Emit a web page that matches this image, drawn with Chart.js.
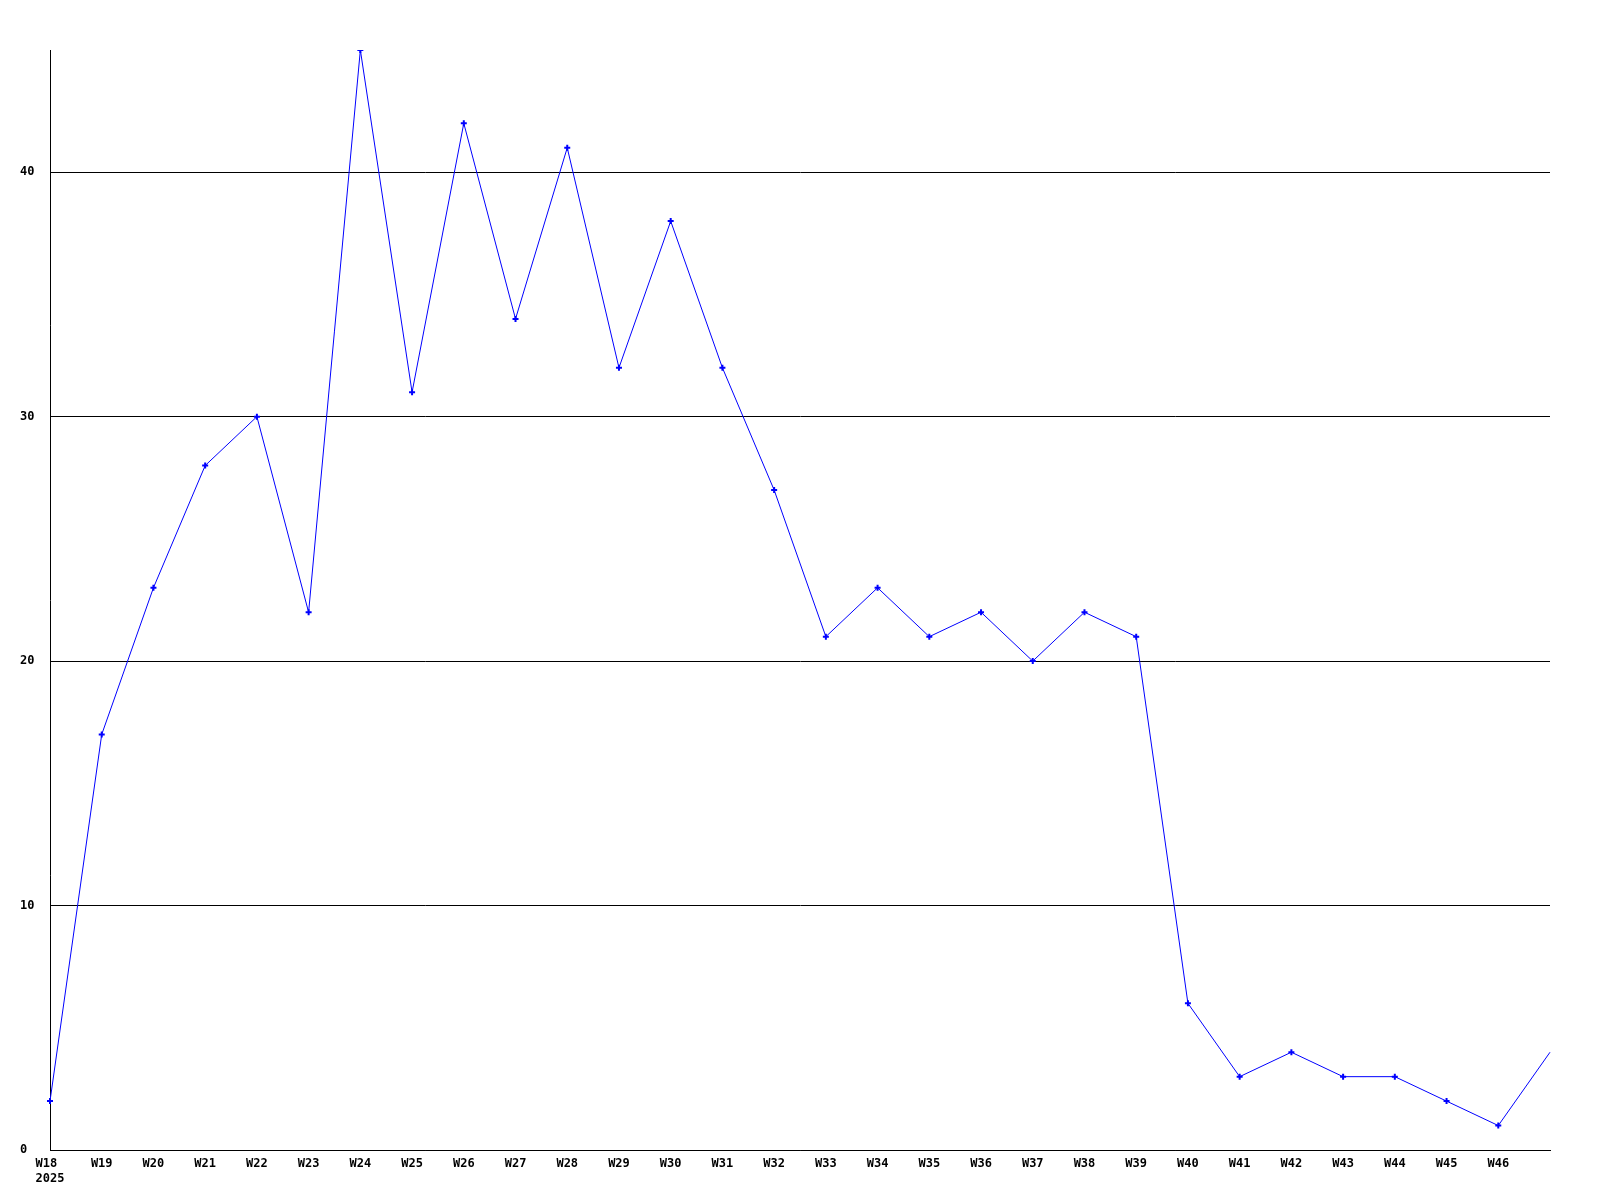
<!DOCTYPE html>
<html lang="en">
<head>
    <meta charset="UTF-8">
    <title>Weekly counts</title>
    <style>
        html, body { margin: 0; padding: 0; background: #fff; }
        #wrap { width: 1600px; height: 1200px; }
    </style>
    <script src="https://cdn.jsdelivr.net/npm/chart.js"></script>
</head>
<body>
    <div id="wrap"><canvas id="weekChart" width="1600" height="1200"></canvas></div>
    <script>
        // Weeks W18 .. W47 (W47 label not shown in the original)
        const weeks = ['W18', 'W19', 'W20', 'W21', 'W22', 'W23', 'W24', 'W25', 'W26', 'W27',
                       'W28', 'W29', 'W30', 'W31', 'W32', 'W33', 'W34', 'W35', 'W36', 'W37',
                       'W38', 'W39', 'W40', 'W41', 'W42', 'W43', 'W44', 'W45', 'W46', 'W47'];
        const counts = [2, 17, 23, 28, 30, 22, 45, 31, 42, 34,
                        41, 32, 38, 32, 27, 21, 23, 21, 22, 20,
                        22, 21, 6, 3, 4, 3, 3, 2, 1, 4];
        const yearLabel = '2025';
        const yTicks = [0, 10, 20, 30, 40];

        const lastIdx = weeks.length - 1;
        const labels = weeks.map((w, i) => i === 0 ? [w + ' ', yearLabel] : (i === lastIdx ? '' : w));
        const tickFont = { family: '"DejaVu Sans Mono", monospace', size: 12, weight: 'bold', lineHeight: 1.25 };

        new Chart(document.getElementById('weekChart'), {
            type: 'line',
            data: {
                labels: labels,
                datasets: [{
                    data: counts,
                    borderColor: '#0000ff',
                    borderWidth: 1,
                    pointStyle: 'cross',
                    // the last (partial) week has no marker
                    pointRadius: ctx => ctx.dataIndex === lastIdx ? 0 : 3,
                    pointBorderWidth: 2,
                    pointBorderColor: '#0000ff',
                    tension: 0,
                    fill: false
                }]
            },
            options: {
                responsive: false,
                animation: false,
                layout: { padding: { top: 50, right: 50, left: 20, bottom: 0 } },
                plugins: { legend: { display: false }, tooltip: { enabled: false } },
                scales: {
                    x: {
                        offset: false,
                        grid: { display: false, drawTicks: false },
                        border: { display: true, color: '#000', width: 1 },
                        ticks: { color: '#000', font: tickFont, maxRotation: 0, autoSkip: false, padding: 6 },
                        afterFit: s => { s.height = 50; }
                    },
                    y: {
                        min: 0,
                        max: 45,
                        grid: { color: '#000', lineWidth: 1, drawTicks: false },
                        border: { display: true, color: '#000', width: 1 },
                        ticks: { color: '#000', font: tickFont, padding: 17, stepSize: 10, crossAlign: 'far' },
                        afterBuildTicks: s => { s.ticks = yTicks.map(v => ({ value: v })); },
                        afterFit: s => { s.width = 30; }
                    }
                }
            }
        });
    </script>
</body>
</html>
